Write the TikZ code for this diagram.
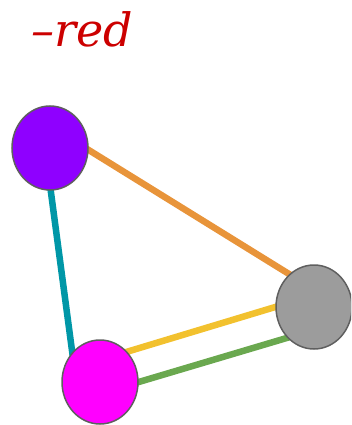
\documentclass[tikz,border=0pt]{standalone}
\usepackage{fontspec}
\usepackage{xcolor}
\usepackage{tikz}
\usetikzlibrary{shapes.geometric}
\usetikzlibrary{backgrounds}

\newfontfamily\titlefont[Ligatures=TeX]{DejaVu Serif}

\definecolor{vioC}{HTML}{8F00FF}
\definecolor{magC}{HTML}{FF00FF}
\definecolor{gryC}{HTML}{9C9C9C}
\definecolor{rimC}{HTML}{5F5F5F}
\definecolor{orgC}{HTML}{E8943A}
\definecolor{tealC}{HTML}{0097A7}
\definecolor{yelC}{HTML}{F2C12E}
\definecolor{grnC}{HTML}{6AA84F}
\definecolor{redC}{HTML}{CC0000}

\begin{document}
\begin{tikzpicture}[x=1pt, y=-1pt,
    vertex/.style={draw=rimC, line width=1.5pt, ellipse, inner sep=0pt,
      minimum width=76pt, minimum height=84pt},
    link/.style={line width=6.5pt, shorten <=-8pt, shorten >=-8pt}]
  \clip (0,0) rectangle (351,425);

  % Title
  \node[text=redC, font=\titlefont\fontsize{46}{48}\selectfont\itshape, anchor=base] (title) at (82,47) {--red};

  % Vertices
  \node[vertex, fill=vioC] (v) at (50,148) {};
  \node[vertex, fill=magC] (m) at (100,382) {};
  \node[vertex, fill=gryC] (g) at (314,307) {};

  % Edges behind the vertices
  \begin{scope}[on background layer]
    \draw[link, orgC] (v.-3) -- (g.127);
    \draw[link, tealC] (v.-89) -- (m.133);
    \draw[link, yelC] (m.48) -- (g.180);
    \draw[link, grnC] (m.0) -- (g.229);
  \end{scope}
\end{tikzpicture}
\end{document}
